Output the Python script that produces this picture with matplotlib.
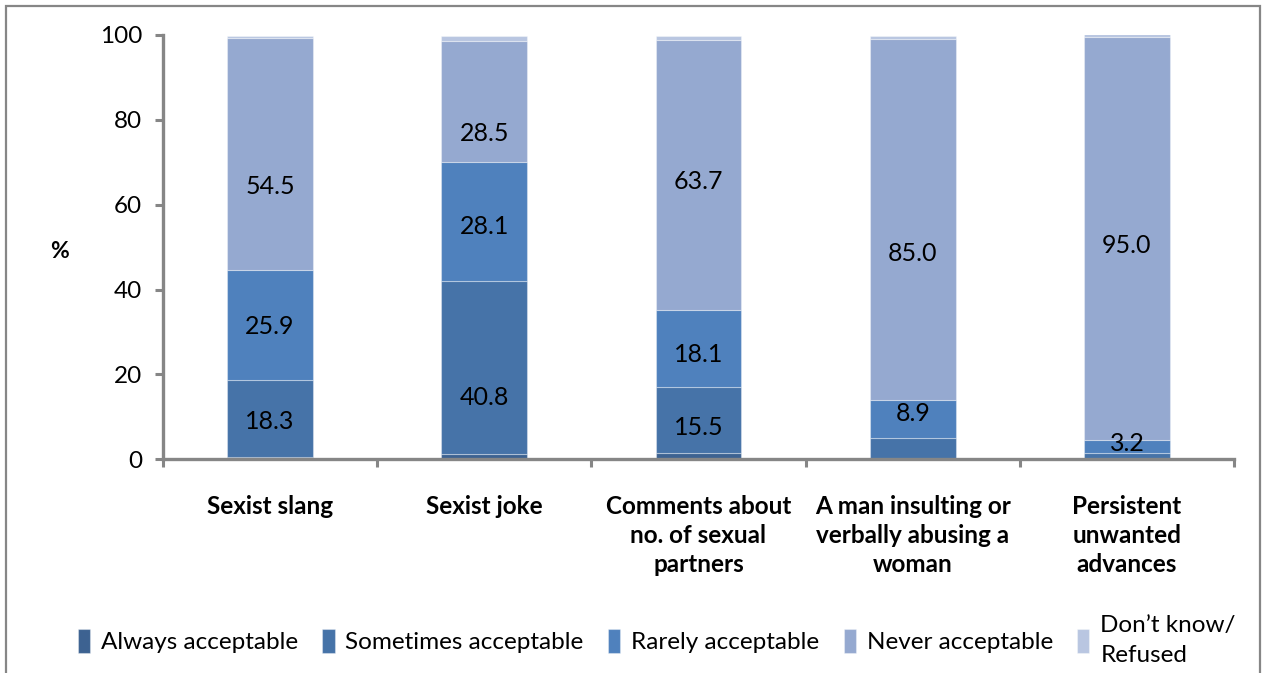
import matplotlib
matplotlib.use("Agg")
import matplotlib.pyplot as plt
from matplotlib.patches import Rectangle
import numpy as np

plt.rcParams['font.family'] = ['Lato', 'DejaVu Sans']

# Survey categories and response shares (%)
categories = ["Sexist slang", "Sexist joke", "Comments about\nno. of sexual\npartners",
              "A man insulting or\nverbally abusing a\nwoman", "Persistent\nunwanted\nadvances"]
series_names = ["Always acceptable", "Sometimes acceptable", "Rarely acceptable",
                "Never acceptable", "Don\u2019t know/\nRefused"]
always = [0.5, 1.2, 1.5, 0.0, 0.0]
sometimes = [18.3, 40.8, 15.5, 5.1, 1.4]
rarely = [25.9, 28.1, 18.1, 8.9, 3.2]
never = [54.5, 28.5, 63.7, 85.0, 95.0]
dont_know = [0.6, 1.2, 1.0, 0.8, 0.7]

# Which segments carry a value label, and where the label sits (data units)
labelled = {1: [0, 1, 2], 2: [0, 1, 2, 3, 4], 3: [0, 1, 2, 3, 4]}
label_y = {
    1: [8.8, 14.5, 7.6, None, None],
    2: [31.4, 54.9, 24.8, 10.7, 3.8],
    3: [64.4, 76.7, 65.4, 48.6, 50.5],
}

colors = ["#3D6291", "#4673A8", "#4F81BD", "#95A9D0", "#B9C6E1"]
axis_gray = "#868686"

fig = plt.figure(figsize=(12.68, 6.73), dpi=100)
ax = fig.add_axes([0.1285, 0.3175, 0.8447, 0.6305])

x = np.arange(len(categories))
series = [always, sometimes, rarely, never, dont_know]
bottom = np.zeros(len(categories))
for i, vals in enumerate(series):
    vals = np.array(vals, dtype=float)
    ax.bar(x, vals, width=0.4, bottom=bottom, color=colors[i],
           edgecolor=(1, 1, 1, 0.35), linewidth=0.8, label=series_names[i], zorder=2)
    if i in labelled:
        for j in labelled[i]:
            ypos = label_y[i][j]
            if ypos is not None:
                ax.text(x[j], ypos, f"{vals[j]:.1f}", ha="center", va="center",
                        fontsize=18, color="black", zorder=3)
    bottom += vals

ax.set_xlim(-0.5, len(categories) - 0.5)
ax.set_ylim(0, 100)
ax.set_yticks(np.arange(0, 101, 20))
ax.tick_params(axis="y", direction="out", length=6, width=2.2, color=axis_gray,
               labelsize=17.5, pad=9, labelcolor="black")

# Category labels under the bars, tick marks at the slot boundaries
ax.set_xticks(x)
ax.set_xticklabels(categories, fontsize=17.5, fontweight="bold", linespacing=1.3)
ax.tick_params(axis="x", which="major", length=0, pad=26)
ax.set_xticks(np.arange(-0.5, len(categories), 1.0), minor=True)
ax.tick_params(axis="x", which="minor", direction="out", length=6, width=2.2, color=axis_gray)

for side in ["top", "right"]:
    ax.spines[side].set_visible(False)
for side in ["left", "bottom"]:
    ax.spines[side].set_color(axis_gray)
    ax.spines[side].set_linewidth(2.4)

ax.text(-0.097, 0.49, "%", transform=ax.transAxes, ha="center", va="center",
        fontsize=16.5, fontweight="bold")

handles, labels = ax.get_legend_handles_labels()
leg = fig.legend(handles, labels, loc="center", bbox_to_anchor=(0.518, 0.048), ncol=5,
                 frameon=False, fontsize=17.5, handlelength=0.5, handleheight=1.15,
                 handletextpad=0.45, columnspacing=1.0)
for t in leg.get_texts():
    t.set_linespacing(1.55)

# Outer chart frame
fig.patches.append(Rectangle((6 / 1268, -0.02), 1254 / 1268, 1 - 6 / 673 + 0.02,
                             transform=fig.transFigure, fill=False,
                             edgecolor=axis_gray, linewidth=1.6))

fig.savefig("out.png", dpi=100)
